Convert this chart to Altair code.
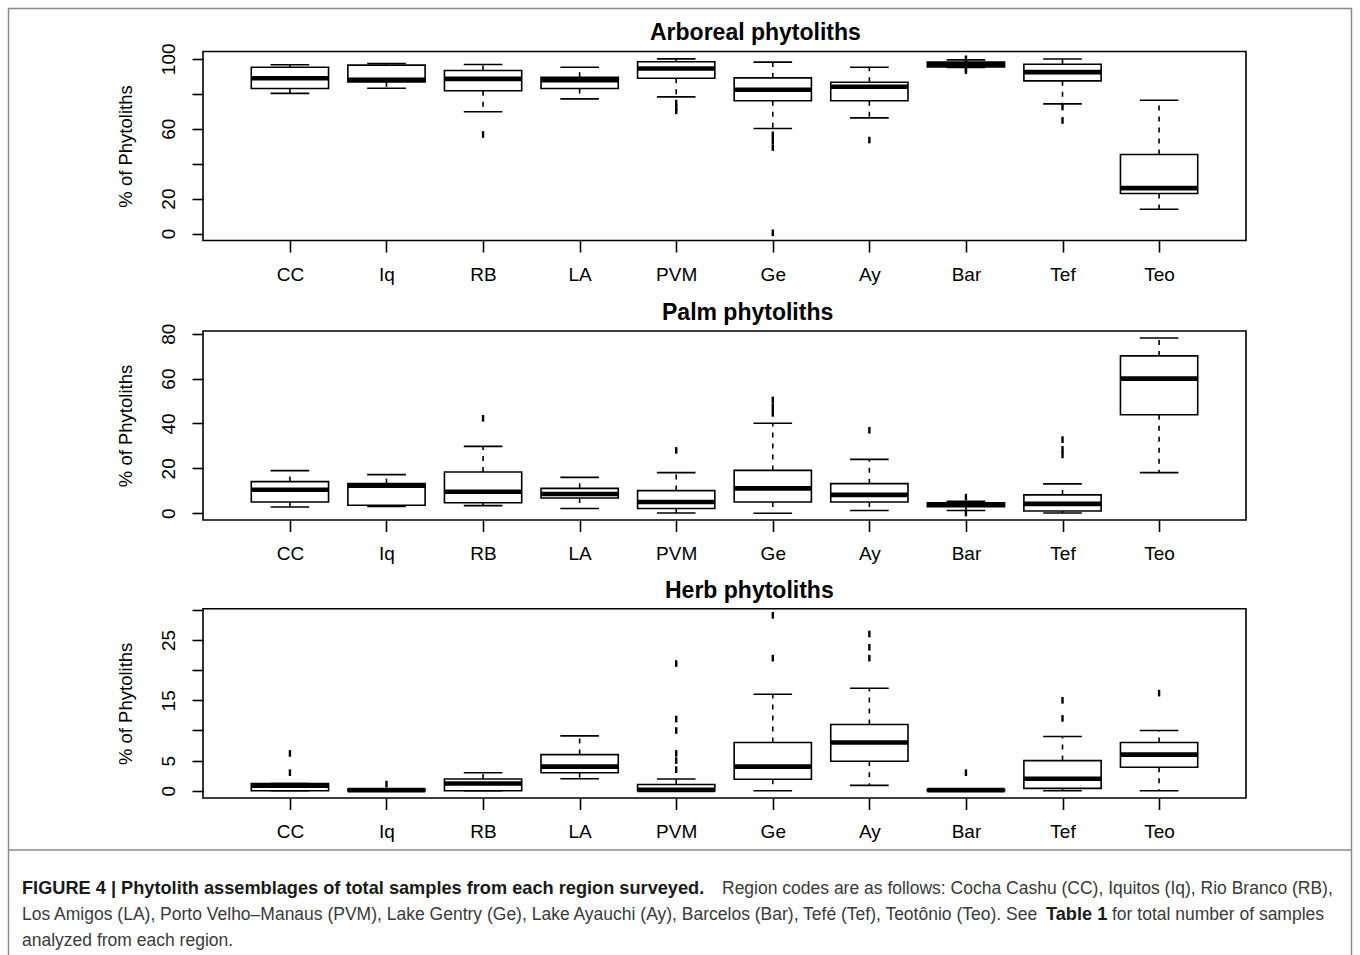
import altair as alt
import pandas as pd

# ---------------- data ----------------
regions = ["CC", "Iq", "RB", "LA", "PVM", "Ge", "Ay", "Bar", "Tef", "Teo"]

# Arboreal phytoliths: lower whisker, Q1, median, Q3, upper whisker
arb_lo = [80.2, 83.2, 69.7, 77.1, 78.2, 60.1, 66.2, 95.0, 74.2, 13.9]
arb_q1 = [83.0, 86.8, 81.7, 83.0, 88.9, 76.0, 76.0, 95.3, 87.4, 22.9]
arb_med = [88.9, 88.0, 88.5, 87.8, 94.5, 82.3, 84.0, 96.6, 92.4, 26.0]
arb_q3 = [95.2, 96.4, 93.3, 89.5, 98.3, 89.1, 86.6, 98.1, 96.9, 45.2]
arb_hi = [96.6, 97.3, 96.8, 95.2, 100.0, 98.1, 95.2, 99.4, 99.9, 76.3]
arb_out_region = ["RB", "PVM", "PVM", "PVM", "Ge", "Ge", "Ge", "Ge", "Ay", "Bar", "Bar", "Bar", "Tef", "Tef"]
arb_out_value = [56.7, 74.7, 72.0, 70.2, 56.5, 53.0, 49.2, 0.4, 53.5, 100.0, 94.2, 93.2, 72.4, 64.7]

# Palm phytoliths
palm_lo = [2.8, 3.0, 3.4, 2.1, 0.1, 0.0, 1.2, 1.2, 0.1, 18.1]
palm_q1 = [5.0, 3.6, 4.7, 6.8, 2.1, 5.0, 5.0, 2.9, 1.0, 43.9]
palm_med = [10.5, 12.3, 9.6, 8.6, 5.0, 11.1, 8.2, 3.9, 4.2, 60.0]
palm_q3 = [14.1, 13.2, 18.4, 11.1, 10.1, 19.1, 13.2, 4.7, 8.2, 70.1]
palm_hi = [19.0, 17.2, 29.8, 16.0, 18.1, 40.1, 24.0, 5.3, 13.1, 78.1]
palm_out_region = ["RB", "PVM", "Ge", "Ge", "Ge", "Ay", "Bar", "Bar", "Tef", "Tef", "Tef"]
palm_out_value = [42.3, 28.0, 50.5, 47.5, 44.5, 37.0, 7.2, 0.1, 32.8, 28.5, 26.0]

# Herb phytoliths
herb_lo = [0.0, 0.0, 0.0, 2.0, 0.0, 0.0, 0.9, 0.0, 0.0, 0.0]
herb_q1 = [0.0, 0.0, 0.0, 3.0, 0.0, 1.9, 4.9, 0.0, 0.4, 3.9]
herb_med = [0.85, 0.1, 1.2, 4.0, 0.15, 4.0, 8.0, 0.1, 2.0, 6.0]
herb_q3 = [1.2, 0.25, 1.95, 6.0, 1.05, 8.0, 11.0, 0.2, 5.0, 8.0]
herb_hi = [1.2, 0.25, 3.0, 9.1, 1.95, 16.0, 17.0, 0.2, 9.0, 10.0]
herb_out_region = ["CC", "CC", "Iq", "PVM", "PVM", "PVM", "PVM", "PVM", "PVM",
                   "Ge", "Ge", "Ay", "Ay", "Ay", "Bar", "Tef", "Tef", "Teo"]
herb_out_value = [6.2, 3.0, 1.1, 21.1, 11.9, 10.0, 6.2, 5.0, 3.5,
                  29.1, 22.0, 26.0, 23.8, 22.0, 3.0, 15.0, 12.0, 16.2]

panel_titles = ["Arboreal phytoliths", "Palm phytoliths", "Herb phytoliths"]
y_ticks = [[0, 20, 40, 60, 80, 100], [0, 20, 40, 60, 80], [0, 5, 10, 15, 20, 25, 30]]
y_labelled = [[0, 20, 60, 100], [0, 20, 40, 60, 80], [0, 5, 15, 25]]
y_title = "% of Phytoliths"

# ---------------- layout / style ----------------
W, H = 1360, 955
FONT = "Liberation Sans"
X_RANGE = [203, 1246]
X_DOMAIN = [0.1, 10.9]
Y_DOMAINS = [[-4.0, 104.2], [-3.0, 81.2], [-1.2, 30.2]]
Y_RANGES = [[240.5, 51.5], [520, 331], [798, 608.7]]
TITLE_POS = [(650, 40), (662, 319.5), (665, 597.5)]
LINE_W = 1.6


def box_frame(lo, q1, med, q3, hi):
    return pd.DataFrame({
        "region": regions, "idx": list(range(1, len(regions) + 1)),
        "lo": lo, "q1": q1, "med": med, "q3": q3, "hi": hi,
    })


def out_frame(reg, val):
    return pd.DataFrame({"idx": [regions.index(r) + 1 for r in reg], "value": val})


def make_panel(k, df_box, df_out):
    y_rng = Y_RANGES[k]
    xs = alt.Scale(domain=X_DOMAIN, range=X_RANGE, nice=False, zero=False)
    ys = alt.Scale(domain=Y_DOMAINS[k], range=y_rng, nice=False, zero=False)
    lab_js = "[" + ",".join("'%s'" % r for r in regions) + "]"
    xaxis = alt.Axis(
        orient="bottom", offset=y_rng[0] - H, values=list(range(1, len(regions) + 1)),
        labelExpr=lab_js + "[datum.value - 1]", domain=False, grid=False,
        tickSize=11.5, tickWidth=LINE_W, tickColor="black",
        labelFont=FONT, labelFontSize=19, labelColor="black", labelPadding=13,
        labelBaseline="top", labelAlign="center", labelOverlap=False, labelFlush=False,
        title=None,
    )
    shown = "[" + ",".join(str(v) for v in y_labelled[k]) + "]"
    yaxis = alt.Axis(
        orient="left", offset=-X_RANGE[0], values=y_ticks[k],
        labelExpr="indexof(" + shown + ", datum.value) >= 0 ? datum.label : ''",
        domain=False, grid=False, tickSize=11, tickWidth=LINE_W, tickColor="black",
        labelFont=FONT, labelFontSize=19, labelColor="black", labelAngle=270,
        labelAlign="center", labelBaseline="bottom", labelPadding=14,
        labelOverlap=False, labelFlush=False,
        title=y_title, titleFont=FONT, titleFontSize=18.5, titleFontWeight="normal",
        titleColor="black", titleAngle=270, titleAlign="center", titleBaseline="middle",
        titleX=125 - X_RANGE[0], titleY=(y_rng[0] + y_rng[1]) / 2,
    )

    def X(f):
        return alt.X(f, type="quantitative", scale=xs, axis=xaxis)

    def Y(f):
        return alt.Y(f, type="quantitative", scale=ys, axis=yaxis)

    base = alt.Chart(df_box).transform_calculate(
        bl="datum.idx - 0.4", br="datum.idx + 0.4",
        cl="datum.idx - 0.2", cr="datum.idx + 0.2",
    )
    whisk_hi = base.mark_rule(color="black", strokeWidth=LINE_W, strokeDash=[5, 6]).encode(
        x=X("idx"), y=Y("q3"), y2="hi")
    whisk_lo = base.mark_rule(color="black", strokeWidth=LINE_W, strokeDash=[5, 6]).encode(
        x=X("idx"), y=Y("q1"), y2="lo")
    cap_hi = base.mark_rule(color="black", strokeWidth=LINE_W).encode(
        x=X("cl"), x2="cr", y=Y("hi"))
    cap_lo = base.mark_rule(color="black", strokeWidth=LINE_W).encode(
        x=X("cl"), x2="cr", y=Y("lo"))
    box = base.mark_rect(fill="white", stroke="black", strokeWidth=LINE_W).encode(
        x=X("bl"), x2="br", y=Y("q3"), y2="q1")
    med = base.mark_rule(color="black", strokeWidth=4.6).encode(
        x=X("bl"), x2="br", y=Y("med"))
    outl = alt.Chart(df_out).mark_point(
        shape="M0,-1L0,1", size=44, strokeWidth=2.4, color="black", filled=False, opacity=1
    ).encode(x=X("idx"), y=Y("value"))
    frame = alt.Chart(pd.DataFrame({"k": [0]})).mark_rect(
        fill=None, stroke="black", strokeWidth=LINE_W).encode(
        x=alt.value(X_RANGE[0]), x2=alt.value(X_RANGE[1]),
        y=alt.value(y_rng[1]), y2=alt.value(y_rng[0]))
    tx, ty = TITLE_POS[k]
    title = alt.Chart(pd.DataFrame({"t": [panel_titles[k]]})).mark_text(
        font=FONT, fontSize=23, fontWeight="bold", align="left", baseline="alphabetic",
        color="black").encode(x=alt.value(tx), y=alt.value(ty), text="t:N")
    return alt.layer(whisk_hi, whisk_lo, cap_hi, cap_lo, box, med, outl, frame, title)


p1 = make_panel(0, box_frame(arb_lo, arb_q1, arb_med, arb_q3, arb_hi),
                out_frame(arb_out_region, arb_out_value))
p2 = make_panel(1, box_frame(palm_lo, palm_q1, palm_med, palm_q3, palm_hi),
                out_frame(palm_out_region, palm_out_value))
p3 = make_panel(2, box_frame(herb_lo, herb_q1, herb_med, herb_q3, herb_hi),
                out_frame(herb_out_region, herb_out_value))

# ---------------- outer frame and caption ----------------
one = pd.DataFrame({"k": [0]})
GREY = "#8c8c8c"
frame_top = alt.Chart(one).mark_rule(color=GREY, strokeWidth=1.5).encode(
    x=alt.value(8), x2=alt.value(1352), y=alt.value(8.5))
frame_left = alt.Chart(one).mark_rule(color=GREY, strokeWidth=1.5).encode(
    x=alt.value(8.5), y=alt.value(8), y2=alt.value(H))
frame_right = alt.Chart(one).mark_rule(color=GREY, strokeWidth=1.5).encode(
    x=alt.value(1351.5), y=alt.value(8), y2=alt.value(H))
frame_sep = alt.Chart(one).mark_rule(color=GREY, strokeWidth=1.5).encode(
    x=alt.value(8), x2=alt.value(1352), y=alt.value(850))

cap_bold_1 = "FIGURE 4 | Phytolith assemblages of total samples from each region surveyed."
cap_reg_1 = "Region codes are as follows: Cocha Cashu (CC), Iquitos (Iq), Rio Branco (RB),"
cap_reg_2a = ("Los Amigos (LA), Porto Velho\u2013Manaus (PVM), Lake Gentry (Ge), Lake Ayauchi (Ay), "
              "Barcelos (Bar), Tef\u00e9 (Tef), Teot\u00f4nio (Teo). See")
cap_bold_2 = "Table 1"
cap_reg_2b = "for total number of samples"
cap_reg_3 = "analyzed from each region."


def cap_text(txt, x, y, bold):
    return alt.Chart(pd.DataFrame({"t": [txt]})).mark_text(
        font=FONT, fontSize=18.2 if bold else 17.5, fontWeight="bold" if bold else "normal",
        align="left", baseline="alphabetic",
        color="#1a1a1a" if bold else "#3a3a3a").encode(
        x=alt.value(x), y=alt.value(y), text="t:N")


captions = [
    cap_text(cap_bold_1, 22, 894, True),
    cap_text(cap_reg_1, 722, 894, False),
    cap_text(cap_reg_2a, 22, 920, False),
    cap_text(cap_bold_2, 1046, 920, True),
    cap_text(cap_reg_2b, 1112, 920, False),
    cap_text(cap_reg_3, 22, 946, False),
]

chart = alt.layer(
    frame_top, frame_left, frame_right, frame_sep, p1, p2, p3, *captions
).resolve_scale(x="independent", y="independent").properties(
    width=W, height=H, padding=0, autosize=alt.AutoSizeParams(type="none"),
    background="white",
).configure_view(stroke=None)

chart.save("out.html", embed_options={"renderer": "svg", "actions": False})
